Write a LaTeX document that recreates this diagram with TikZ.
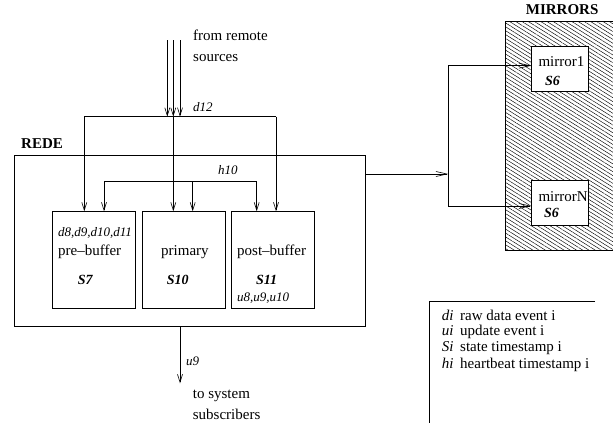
\documentclass[tikz,border=0pt]{standalone}
\usepackage{fontspec}
\setmainfont{Liberation Serif}
\usetikzlibrary{arrows.meta,positioning,patterns.meta}

\begin{document}
\begin{tikzpicture}[x=1pt, y=-1pt,
		box/.style={draw, line width=0.8pt, inner sep=0pt},
		link/.style={line width=0.6pt},
		txt/.style={inner sep=0pt, anchor=west, font=\fontsize{15}{21}\selectfont},
		small/.style={inner sep=0pt, anchor=west, font=\fontsize{13}{15}\selectfont\itshape},
		tag/.style={inner sep=0pt, anchor=west, font=\fontsize{14}{16}\selectfont\bfseries\itshape},
		>={Straight Barb[length=8pt,width=5pt]}]
		\useasboundingbox (0,0) rectangle (613,423);
		% boxes
		\node [box, minimum width=351.7pt, minimum height=171.7pt] (rede) at (189.85,240.85) {};
		\node [box, minimum width=83pt, minimum height=96.6pt] (pre) at (93.8,260) {};
		\node [box, minimum width=83pt, minimum height=96.6pt] (prim) at (183.5,260) {};
		\node [box, minimum width=83pt, minimum height=96.6pt] (post) at (272.8,260) {};
		\fill [pattern={Lines[angle=-32, distance=3.3pt, line width=0.45pt]}] (613,21) -- (505.7,21) -- (505.7,250.7) -- (613,250.7);
		\draw [line width=0.8pt] (613,21) -- (505.7,21) -- (505.7,250.7) -- (613,250.7);
		\node [box, fill=white, minimum width=56.6pt, minimum height=44.3pt] (m1) at (560,68.85) {};
		\node [box, fill=white, minimum width=56.6pt, minimum height=45.7pt] (mN) at (560,202.85) {};
		% labels
		\node [txt, font=\fontsize{15}{17}\selectfont\bfseries] (redel) at (21,144) {REDE};
		\node [txt, font=\fontsize{15}{17}\selectfont\bfseries] (mirl) at (525.7,10) {MIRRORS};
		\node [txt, align=left] (from) at (193,46) {from remote\\sources};
		\node [txt, align=left] (to) at (192.7,405.3) {to system\\subscribers};
		\node [small] (d12) at (193,107) {d12};
		\node [small] (h10) at (218,170) {h10};
		\node [small] (u9) at (186,361.7) {u9};
		\node [small] (dlist) at (58,233.3) {d8,d9,d10,d11};
		\node [txt] (pret) at (58,251.7) {pre--buffer};
		\node [tag] (s7) at (77.7,280) {S7};
		\node [txt] (primt) at (161,251.7) {primary};
		\node [tag] (s10) at (166.7,280) {S10};
		\node [txt] (postt) at (237,251.7) {post--buffer};
		\node [tag] (s11) at (256,280) {S11};
		\node [small] (ulist) at (237,298.3) {u8,u9,u10};
		\node [txt] (m1t) at (538.3,61.7) {mirror1};
		\node [tag] (m1s) at (545,80.7) {S6};
		\node [txt] (mNt) at (538.3,196.7) {mirrorN};
		\node [tag] (mNs) at (544,213.3) {S6};
		% legend
		\draw [line width=0.8pt] (595,301.7) -- (429.3,301.7) -- (429.3,423);
		\node [txt] (ld) at (441.7,315) {\makebox[18.3pt][l]{\itshape di}raw data event i};
		\node [txt] (lu) at (441.7,331.7) {\makebox[18.3pt][l]{\itshape ui}update event i};
		\node [txt] (ls) at (441.7,348.3) {\makebox[18.3pt][l]{\itshape Si}state timestamp i};
		\node [txt] (lh) at (441.7,365) {\makebox[18.3pt][l]{\itshape hi}heartbeat timestamp i};
		% incoming data
		\coordinate (in1) at (167.3,40);
		\coordinate (in2) at (173.3,40);
		\coordinate (in3) at (180,40);
		\coordinate (busl) at (84.3,116.7);
		\coordinate (busr) at (276,116.7);
		\draw [link, ->] (in1) -- (in1 |- busl);
		\draw [link, ->] (in2) -- (in2 |- busl);
		\draw [link, ->] (in3) -- (in3 |- busl);
		\draw [link] (busl) -- (busr);
		\draw [link, ->] (busl) -- (busl |- pre.north);
		\draw [link, ->] (in2 |- busl) -- (in2 |- prim.north);
		\draw [link, ->] (busr) -- (busr |- post.north);
		% heartbeat
		\coordinate (hbl) at (104,181);
		\coordinate (hbm) at (192.7,181);
		\coordinate (hbr) at (256.7,181);
		\draw [link] (hbl) -- (hbr);
		\draw [link, ->] (hbl) -- (hbl |- pre.north);
		\draw [link, ->] (hbm) -- (hbm |- prim.north);
		\draw [link, ->] (hbr) -- (hbr |- post.north);
		% to mirrors
		\coordinate (fork) at (448.3,174);
		\coordinate (f1) at (448.3,65.7);
		\coordinate (f2) at (448.3,206);
		\draw [link, >={Straight Barb[length=11pt,width=5pt]}, ->] (rede.east |- fork) -- (fork);
		\draw [link] (f1) -- (f2);
		\draw [link, >={Straight Barb[length=11pt,width=5pt]}, ->] (f1) -- (f1 -| m1.west);
		\draw [link, >={Straight Barb[length=11pt,width=5pt]}, ->] (f2) -- (f2 -| mN.west);
		% to subscribers
		\coordinate (out) at (180,383.3);
		\draw [link, ->] (out |- rede.south) -- (out);
	\end{tikzpicture}
\end{document}
